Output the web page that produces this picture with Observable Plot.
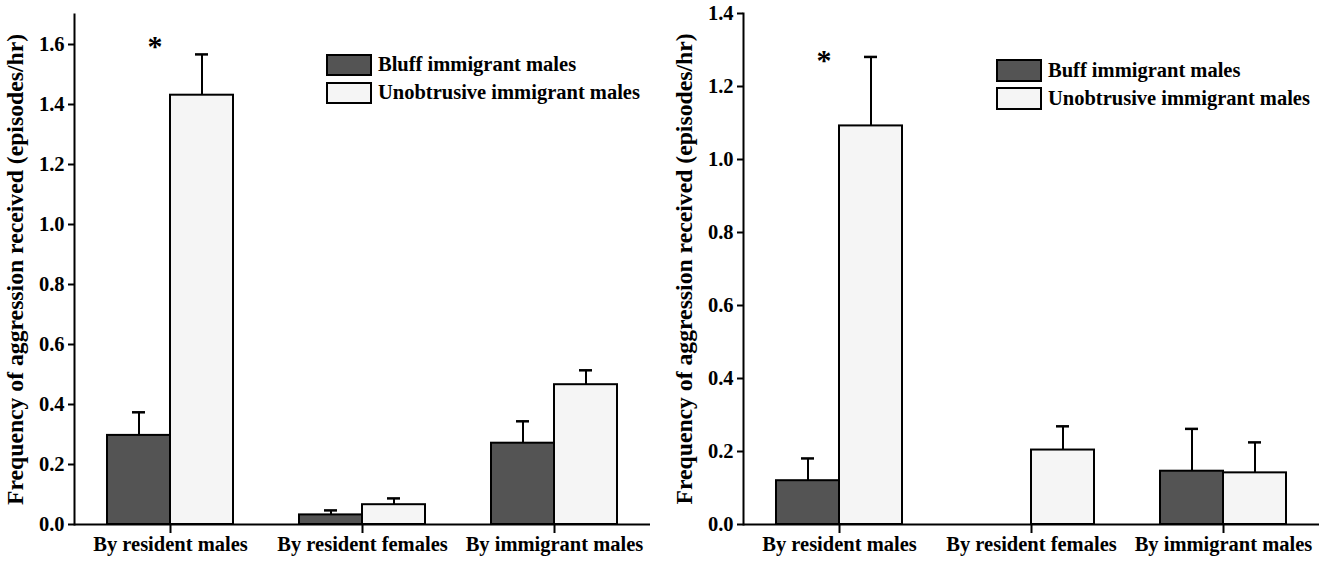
<!DOCTYPE html>
<html>
<head>
<meta charset="utf-8">
<script src="https://cdn.jsdelivr.net/npm/d3@7"></script>
<script src="https://cdn.jsdelivr.net/npm/@observablehq/plot@0.6"></script>
<style>
  html, body { margin: 0; padding: 0; background: white; }
  #wrap { position: relative; width: 1325px; height: 561px; display: flex; }
  .legend { position: absolute; font: bold 20.5px "Liberation Serif", serif; color: #000; }
  .legend .row { display: flex; align-items: center; white-space: nowrap; }
  .legend .sw { box-sizing: border-box; border: 2px solid #000; margin-right: 6px; }
</style>
</head>
<body>
<div id="wrap"></div>
<script>
// ---------- data ----------
const categories = ["By resident males", "By resident females", "By immigrant males"];

// Left panel
const leftSeries = ["Bluff immigrant males", "Unobtrusive immigrant males"];
const leftBluffMean = [0.297, 0.032, 0.271];
const leftBluffErr  = [0.374, 0.047, 0.344];
const leftUnobMean  = [1.431, 0.066, 0.466];
const leftUnobErr   = [1.567, 0.087, 0.514];
const leftYTicks = [0.0, 0.2, 0.4, 0.6, 0.8, 1.0, 1.2, 1.4, 1.6];
const leftYMax = 1.7;
const leftStar = [{cat: "By resident males", value: 1.60}];

// Right panel
const rightSeries = ["Buff immigrant males", "Unobtrusive immigrant males"];
const rightBuffMean = [0.120, null, 0.146];
const rightBuffErr  = [0.181, null, 0.262];
const rightUnobMean = [1.092, 0.204, 0.1415];
const rightUnobErr  = [1.281, 0.269, 0.225];
const rightYTicks = [0.0, 0.2, 0.4, 0.6, 0.8, 1.0, 1.2, 1.4];
const rightYMax = 1.4;
const rightStar = [{cat: "By resident males", value: 1.278}];

const yLabel = "Frequency of aggression received (episodes/hr)";
const colors = ["#545454", "#f5f5f5"];

function rows(series, meansA, errsA, meansB, errsB) {
  const out = [];
  categories.forEach((c, i) => {
    out.push({cat: c, series: series[0], mean: meansA[i], err: errsA[i]});
    out.push({cat: c, series: series[1], mean: meansB[i], err: errsB[i]});
  });
  return out.filter(d => d.mean != null);
}

function panel({series, data, yMax, yTicks, star, width, marginLeft, marginRight, marginTop}) {
  const svg = Plot.plot({
    width, height: 561,
    marginLeft, marginRight, marginTop, marginBottom: 37,
    style: {fontFamily: "'Liberation Serif', serif", fontWeight: "bold", fontSize: "20.5px", color: "#000", background: "white"},
    fx: {domain: categories, padding: 0, label: null},
    x: {domain: series, paddingInner: 0, paddingOuter: 0.508, axis: null},
    y: {domain: [0, yMax], label: null},
    color: {domain: series, range: colors},
    marks: [
      Plot.barY(data, {fx: "cat", x: "series", y: "mean", fill: "series", stroke: "#000", strokeWidth: 2}),
      Plot.ruleX(data, {fx: "cat", x: "series", y1: "mean", y2: "err", stroke: "#000", strokeWidth: 2}),
      Plot.tickY(data, {fx: "cat", x: "series", y: "err", insetLeft: 25, insetRight: 25, stroke: "#000", strokeWidth: 2.5}),
      Plot.ruleY([0], {stroke: "#000", strokeWidth: 2}),
      Plot.frame({anchor: "left", facetAnchor: "left", stroke: "#000", strokeWidth: 2}),
      Plot.text(star, {fx: "cat", x: () => series[0], y: "value", text: () => "*", dx: 16, dy: 2, fontSize: 30, fontWeight: "bold"}),
      Plot.axisY({ticks: yTicks, tickFormat: d3.format(".1f"), tickSize: 6, tickPadding: 4, strokeWidth: 2,
                  label: yLabel, labelAnchor: "center", labelOffset: 68, labelArrow: "none"}),
      Plot.axisFx({anchor: "bottom", tickSize: 9, tickPadding: 3, strokeWidth: 2, label: null})
    ]
  });
  // the axis title is set larger than the tick labels
  d3.select(svg).selectAll('g[aria-label="y-axis label"]').attr("font-size", 23.7)
    .selectAll("text").attr("font-size", 23.7);
  return svg;
}

const wrap = document.getElementById("wrap");
wrap.append(panel({
  series: leftSeries,
  data: rows(leftSeries, leftBluffMean, leftBluffErr, leftUnobMean, leftUnobErr),
  yMax: leftYMax, yTicks: leftYTicks, star: leftStar,
  width: 662, marginLeft: 73, marginRight: 11, marginTop: 14
}));
wrap.append(panel({
  series: rightSeries,
  data: rows(rightSeries, rightBuffMean, rightBuffErr, rightUnobMean, rightUnobErr),
  yMax: rightYMax, yTicks: rightYTicks, star: rightStar,
  width: 663, marginLeft: 80, marginRight: 5, marginTop: 13
}));

function legend(series, left, top, swW, swH, gap) {
  const div = document.createElement("div");
  div.className = "legend";
  div.style.left = left + "px";
  div.style.top = top + "px";
  series.forEach((s, i) => {
    const row = document.createElement("div");
    row.className = "row";
    row.style.marginBottom = gap + "px";
    const sw = document.createElement("div");
    sw.className = "sw";
    sw.style.width = swW + "px";
    sw.style.height = swH + "px";
    sw.style.background = colors[i];
    const t = document.createElement("span");
    t.textContent = s;
    row.append(sw, t);
    div.append(row);
  });
  wrap.append(div);
}
legend(leftSeries, 326, 53, 46, 22, 5);
legend(rightSeries, 996, 59, 46, 23, 5);
</script>
</body>
</html>
